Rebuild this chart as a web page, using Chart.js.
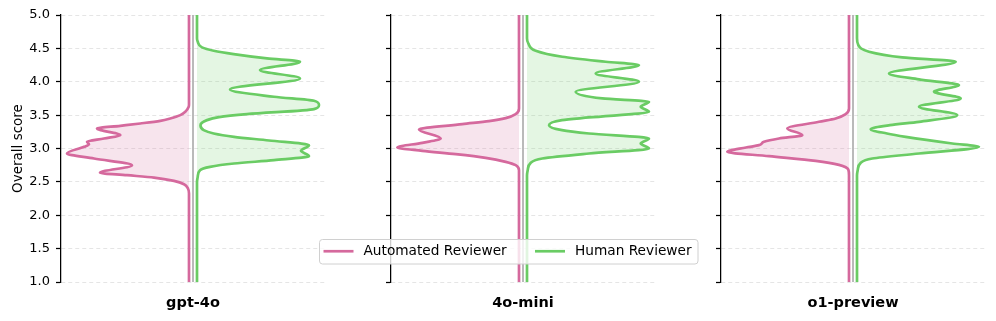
<!DOCTYPE html>
<html>
<head>
<meta charset="utf-8">
<script src="https://cdn.jsdelivr.net/npm/chart.js@4.4.1/dist/chart.umd.min.js"></script>
<style>
  html, body { margin: 0; padding: 0; background: #ffffff; }
  #fig { position: relative; width: 996px; height: 321px; overflow: hidden; background: #ffffff; }
  #fig canvas { position: absolute; top: 0; }
</style>
</head>
<body>
<div id="fig">
  <canvas id="c1" width="330" height="321" style="left:0px; z-index:1;"></canvas>
  <canvas id="c3" width="296" height="321" style="left:700px; z-index:1;"></canvas>
  <canvas id="c2" width="410" height="321" style="left:300px; z-index:2;"></canvas>
</div>
<script>
// ---------------- data ----------------
const models = ['gpt-4o', '4o-mini', 'o1-preview'];
const seriesLabels = ['Automated Reviewer', 'Human Reviewer'];
const yTickValues = [1.0, 1.5, 2.0, 2.5, 3.0, 3.5, 4.0, 4.5, 5.0];
const yAxisTitle = 'Overall score';

// gpt-4o
const gpt4oAutoScores  = [5.0, 3.66, 3.625, 3.55, 3.5, 3.45, 3.415, 3.375, 3.34, 3.30, 3.20, 3.15, 3.10, 3.065, 3.025, 2.925, 2.85, 2.75, 2.635, 2.60, 2.565, 2.515, 2.465, 2.40, 2.325, 1.0];
const gpt4oAutoDensity = [0, 0, 0.3, 3.7, 8.7, 18.7, 28.7, 48.7, 68.7, 92, 68.7, 85, 102, 100, 105, 122, 95, 57, 89, 62, 35, 15, 5, 1, 0, 0];
const gpt4oHumanScores  = [5.0, 4.65, 4.6, 4.515, 4.465, 4.415, 4.35, 4.30, 4.175, 4.05, 3.885, 3.775, 3.715, 3.65, 3.59, 3.515, 3.47, 3.425, 3.35, 3.275, 3.225, 3.175, 3.12, 3.05, 2.965, 2.885, 2.825, 2.775, 2.725, 2.675, 2.575, 2.5, 1.0];
const gpt4oHumanDensity = [0, 0, 0.7, 5, 16.7, 36.7, 70, 103, 63, 103, 33, 77, 117, 122, 117, 50, 22, 10, 3.5, 6.7, 16.7, 37, 72, 112, 104, 112, 77, 37, 13, 3, 0.7, 0, 0];

// 4o-mini
const miniAutoScores  = [5.0, 3.6, 3.515, 3.455, 3.41, 3.365, 3.285, 3.15, 3.085, 3.015, 2.965, 2.915, 2.86, 2.8, 2.75, 2.675, 1.0];
const miniAutoDensity = [0, 0, 3.3, 13.3, 30, 56.7, 100, 78.3, 96.7, 121.7, 96.7, 63.3, 33.3, 13.3, 3.3, 0, 0];
const miniHumanScores  = [5.0, 4.65, 4.575, 4.465, 4.375, 4.30, 4.25, 4.125, 4.0, 3.85, 3.75, 3.70, 3.625, 3.55, 3.465, 3.425, 3.35, 3.275, 3.225, 3.15, 3.075, 3.0, 2.925, 2.85, 2.785, 2.675, 2.6, 1.0];
const miniHumanDensity = [0, 0, 1.3, 8.7, 35.3, 78.7, 112, 68.7, 112, 48.7, 75.3, 122, 113.7, 122, 62, 35, 22, 35, 62, 122, 113.7, 122, 62, 15.3, 3.7, 0.7, 0, 0];

// o1-preview
const o1AutoScores  = [5.0, 3.6, 3.515, 3.45, 3.40, 3.30, 3.20, 3.15, 3.10, 3.05, 3.015, 2.95, 2.885, 2.815, 2.755, 2.685, 2.6, 1.0];
const o1AutoDensity = [0, 0, 3.3, 13.3, 30, 61.7, 46.7, 70, 85, 90, 103, 121.7, 80, 33.3, 10, 0.7, 0, 0];
const o1HumanScores  = [5.0, 4.65, 4.55, 4.45, 4.365, 4.30, 4.125, 4.035, 3.95, 3.85, 3.75, 3.625, 3.50, 3.40, 3.35, 3.29, 3.225, 3.175, 3.075, 3.025, 2.925, 2.85, 2.785, 2.675, 2.6, 1.0];
const o1HumanDensity = [0, 0, 1.3, 12, 45.3, 98.7, 32, 62, 102, 77, 103.7, 62, 100.3, 62, 33, 13.7, 30, 48.7, 95.3, 122, 62, 15.3, 3.7, 0.7, 0, 0];

// ---------------- style ----------------
const PINK = '#d5699d';
const PINK_FILL = 'rgba(213,105,157,0.18)';
const GREEN = '#6acc64';
const GREEN_FILL = 'rgba(106,204,100,0.18)';
const GAP = 4;        // half-gap between the two halves of the split violin
const HALF = 132;     // half-width of the density axis
const LW = 2.7;
const FONT = "'DejaVu Sans', 'Liberation Sans', sans-serif";

Chart.defaults.font.family = FONT;
Chart.defaults.color = '#000000';

function half(scores, dens, sign) {
  return scores.map((s, i) => ({ x: sign * (GAP + dens[i]), y: s }));
}

const figLegend = {
  id: 'figLegend',
  afterDraw(chart) {
    const ctx = chart.ctx;
    const ds = chart.data.datasets;
    const x0 = 19, y0 = 239, w = 378.5, h = 24.5;
    const cy = y0 + h / 2;
    ctx.save();
    ctx.beginPath();
    ctx.roundRect(x0 + 0.5, y0 + 0.5, w, h, 3);
    ctx.fillStyle = 'rgba(255,255,255,0.8)';
    ctx.fill();
    ctx.strokeStyle = '#d0d0d0';
    ctx.lineWidth = 1;
    ctx.stroke();
    const items = [
      { color: ds[0].borderColor, text: ds[0].label, hx: 23.5, tx: 63.5 },
      { color: ds[1].borderColor, text: ds[1].label, hx: 235, tx: 275 }
    ];
    ctx.font = "13.7px " + FONT;
    ctx.textBaseline = 'middle';
    ctx.textAlign = 'left';
    for (const it of items) {
      ctx.beginPath();
      ctx.moveTo(it.hx, cy);
      ctx.lineTo(it.hx + 30, cy);
      ctx.strokeStyle = it.color;
      ctx.lineWidth = LW;
      ctx.stroke();
      ctx.fillStyle = '#000000';
      ctx.fillText(it.text, it.tx, cy + 0.5);
    }
    ctx.restore();
  }
};

function makeChart(canvasId, model, auto, human, cfg) {
  const datasets = [
    {
      label: seriesLabels[0],
      data: half(auto[0], auto[1], -1),
      borderColor: PINK, backgroundColor: PINK_FILL, borderWidth: LW,
      pointRadius: 0, cubicInterpolationMode: 'monotone',
      fill: { value: -GAP }, order: 3
    },
    {
      label: seriesLabels[1],
      data: half(human[0], human[1], 1),
      borderColor: GREEN, backgroundColor: GREEN_FILL, borderWidth: LW,
      pointRadius: 0, cubicInterpolationMode: 'monotone',
      fill: { value: GAP }, order: 2
    },
    {
      label: 'center',
      data: [{ x: 0, y: yTickValues[0] }, { x: 0, y: yTickValues[yTickValues.length - 1] }],
      borderColor: 'rgba(120,120,120,0.85)', borderWidth: 1.2,
      pointRadius: 0, fill: false, order: 1
    }
  ];
  return new Chart(document.getElementById(canvasId), {
    type: 'line',
    data: { datasets },
    plugins: cfg.legend ? [figLegend] : [],
    options: {
      indexAxis: 'y',
      animation: false,
      responsive: false,
      events: [],
      layout: { padding: { left: cfg.padLeft, right: cfg.padRight, top: 15, bottom: 0 } },
      plugins: { legend: { display: false }, tooltip: { enabled: false } },
      scales: {
        x: {
          type: 'linear', min: -HALF, max: HALF,
          grid: { display: false, drawTicks: false },
          border: { display: false },
          ticks: { display: false },
          title: {
            display: true, text: model, color: '#000000',
            font: { size: 14.5, weight: 'bold', family: FONT },
            padding: { top: 0, bottom: 9 }
          },
          afterFit: (s) => { s.height = 39; }
        },
        y: {
          type: 'linear', position: 'left',
          min: yTickValues[0], max: yTickValues[yTickValues.length - 1],
          afterBuildTicks: (s) => { s.ticks = yTickValues.map(v => ({ value: v })); },
          ticks: {
            display: cfg.labels, padding: 6, color: '#000000',
            font: { size: 13, family: FONT },
            callback: (v) => Number(v).toFixed(1)
          },
          grid: {
            display: true, color: 'rgba(0,0,0,0.1)', lineWidth: 1,
            borderDash: [4, 3],
            drawTicks: true, tickLength: 5, tickColor: '#000000', tickWidth: 1.25, tickBorderDash: []
          },
          border: { display: true, color: '#000000', width: 1.25, dash: [4, 3] },
          title: {
            display: cfg.labels, text: yAxisTitle, color: '#000000',
            font: { size: 13.5, family: FONT },
            padding: { top: 10, bottom: 0 }
          },
          afterFit: (s) => { s.width = cfg.axisWidth; }
        }
      }
    }
  });
}

makeChart('c1', models[0], [gpt4oAutoScores, gpt4oAutoDensity], [gpt4oHumanScores, gpt4oHumanDensity],
  { padLeft: 0, padRight: 5, axisWidth: 61, labels: true, legend: false });
makeChart('c3', models[2], [o1AutoScores, o1AutoDensity], [o1HumanScores, o1HumanDensity],
  { padLeft: 11, padRight: 11, axisWidth: 10, labels: false, legend: false });
makeChart('c2', models[1], [miniAutoScores, miniAutoDensity], [miniHumanScores, miniHumanDensity],
  { padLeft: 81, padRight: 55, axisWidth: 10, labels: false, legend: true });
</script>
</body>
</html>
